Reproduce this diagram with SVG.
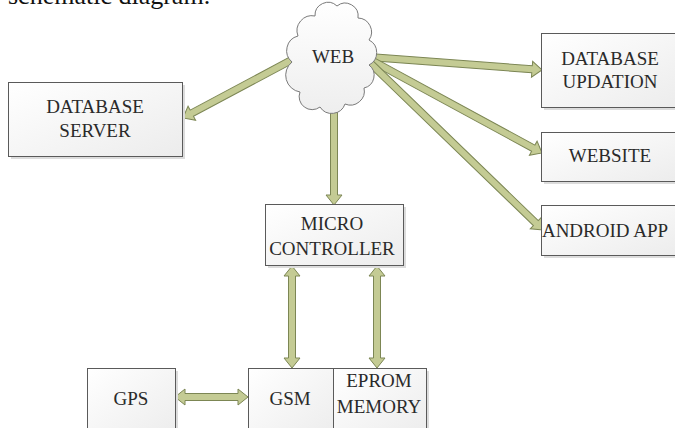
<svg xmlns="http://www.w3.org/2000/svg" width="675" height="428" viewBox="0 0 675 428">
  <style>
    .box { fill: url(#boxGrad); stroke: #5a5a5a; stroke-width: 1; }
    .shadow { fill: #dcdcdc; }
    .lbl { font-family: "Liberation Serif", "Times New Roman", serif; font-size: 19px; fill: #2a2a2a; text-anchor: middle; }
    .arrow { fill: #c4cb94; stroke: #7c8654; stroke-width: 1; stroke-linejoin: miter; }
    .cloud { fill: url(#cloudGrad); stroke: #7a7a7a; stroke-width: 1; }
  </style>
  <defs>
    <linearGradient id="boxGrad" x1="0" y1="0" x2="1" y2="1">
      <stop offset="0" stop-color="#ffffff"/>
      <stop offset="1" stop-color="#ececec"/>
    </linearGradient>
    <linearGradient id="cloudGrad" x1="0" y1="0" x2="0" y2="1">
      <stop offset="0" stop-color="#ffffff"/>
      <stop offset="1" stop-color="#eeeeee"/>
    </linearGradient>
  </defs>
  <rect width="675" height="428" fill="#ffffff"/>

  <text x="8" y="4" style="font-family: 'Liberation Serif', 'Times New Roman', serif; font-size: 26px; fill: #111;">schematic diagram.</text>

  <g id="connectors">
    <path class="arrow" transform="translate(299,56) rotate(151.9)" d="M0,-3.5 H121.5 V-8 L131.5,0 L121.5,8 V3.5 H0 Z"/>
    <path class="arrow" transform="translate(334,107) rotate(90)" d="M0,-3.5 H88 V-8 L98,0 L88,8 V3.5 H0 Z"/>
    <path class="arrow" transform="translate(369,57) rotate(4.3)" d="M0,-3.5 H163.5 V-8 L173.5,0 L163.5,8 V3.5 H0 Z"/>
    <path class="arrow" transform="translate(369,59) rotate(28.5)" d="M0,-3.5 H186.9 V-8 L196.9,0 L186.9,8 V3.5 H0 Z"/>
    <path class="arrow" transform="translate(368,61) rotate(44)" d="M0,-3.5 H233.3 V-8 L243.3,0 L233.3,8 V3.5 H0 Z"/>
    <path class="arrow" transform="translate(292,266) rotate(90)" d="M0,0 L10,-8 V-3.5 H92 V-8 L102,0 L92,8 V3.5 H10 V8 Z"/>
    <path class="arrow" transform="translate(377,266) rotate(90)" d="M0,0 L10,-8 V-3.5 H92 V-8 L102,0 L92,8 V3.5 H10 V8 Z"/>
    <path class="arrow" transform="translate(175,397)" d="M0,0 L10,-8 V-3.5 H63 V-8 L73,0 L63,8 V3.5 H10 V8 Z"/>
  </g>

  <g id="web">
    <path class="cloud" d="M292,62 A15,15 0 0 1 298,36 A15,15 0 0 1 315,16 A13,13 0 0 1 337,6 A13,13 0 0 1 358,18 A14,14 0 0 1 369,40 A14,14 0 0 1 369,65 A13,13 0 0 1 364,88 A14,14 0 0 1 345,104 A14,14 0 0 1 320,107 A13,13 0 0 1 300,92 A17,17 0 0 1 292,62 Z"/>
    <text class="lbl" x="333" y="63">WEB</text>
  </g>

  <g id="database-server">
    <rect class="shadow" x="11" y="85" width="174" height="74"/>
    <rect class="box" x="8.5" y="82.5" width="174" height="74"/>
    <text class="lbl" x="95" y="113">DATABASE</text>
    <text class="lbl" x="95" y="137">SERVER</text>
  </g>

  <g id="database-updation">
    <rect class="shadow" x="544" y="36" width="140" height="74"/>
    <rect class="box" x="541.5" y="33.5" width="140" height="74"/>
    <text class="lbl" x="610" y="65">DATABASE</text>
    <text class="lbl" x="610" y="88">UPDATION</text>
  </g>

  <g id="website">
    <rect class="shadow" x="544" y="135" width="140" height="49"/>
    <rect class="box" x="541.5" y="132.5" width="140" height="49"/>
    <text class="lbl" x="610" y="162">WEBSITE</text>
  </g>

  <g id="android-app">
    <rect class="shadow" x="544" y="208" width="140" height="50"/>
    <rect class="box" x="541.5" y="205.5" width="140" height="50"/>
    <text class="lbl" x="605" y="237">ANDROID APP</text>
  </g>

  <g id="micro-controller">
    <rect class="shadow" x="268" y="207" width="138" height="61"/>
    <rect class="box" x="265.5" y="204.5" width="138" height="61"/>
    <text class="lbl" x="332" y="230">MICRO</text>
    <text class="lbl" x="332" y="255">CONTROLLER</text>
  </g>

  <g id="gps">
    <rect class="shadow" x="90" y="371" width="88" height="70"/>
    <rect class="box" x="87.5" y="368.5" width="88" height="70"/>
    <text class="lbl" x="131" y="405">GPS</text>
  </g>

  <g id="gsm">
    <rect class="shadow" x="251" y="371" width="85" height="70"/>
    <rect class="box" x="248.5" y="368.5" width="85" height="70"/>
    <text class="lbl" x="290" y="405">GSM</text>
  </g>

  <g id="eprom-memory">
    <rect class="shadow" x="336" y="371" width="93" height="70"/>
    <rect class="box" x="333.5" y="368.5" width="93" height="70"/>
    <text class="lbl" x="379" y="387">EPROM</text>
    <text class="lbl" x="379" y="413">MEMORY</text>
  </g>
</svg>
